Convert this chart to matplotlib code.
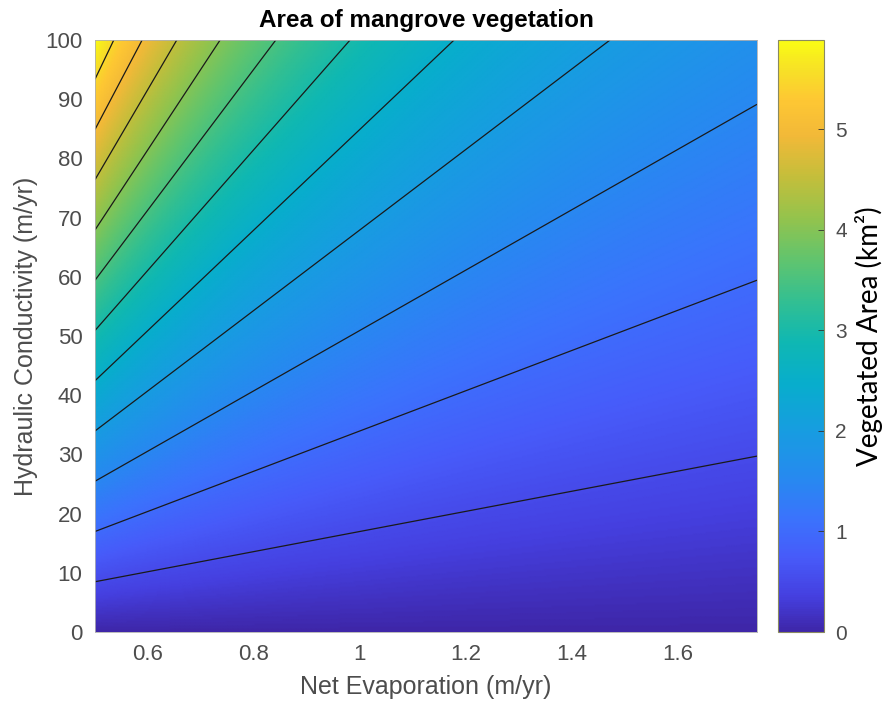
import numpy as np
import matplotlib
matplotlib.use("Agg")
import matplotlib.pyplot as plt
from matplotlib.colors import LinearSegmentedColormap

# axis ranges of the model sweep
evap_range = [0.5, 1.75]          # net evaporation (m/yr)
cond_range = [0.0, 100.0]         # hydraulic conductivity (m/yr)
# vegetated area grows with the conductivity / evaporation ratio
area_per_ratio = 0.02945          # km^2 per (m/yr / m/yr)
contour_levels = [0.5, 1.0, 1.5, 2.0, 2.5, 3.0, 3.5, 4.0, 4.5, 5.0, 5.5]
x_ticks = [0.6, 0.8, 1.0, 1.2, 1.4, 1.6]
x_tick_labels = ["0.6", "0.8", "1", "1.2", "1.4", "1.6"]
y_ticks = [0, 10, 20, 30, 40, 50, 60, 70, 80, 90, 100]
cbar_ticks = [0, 1, 2, 3, 4, 5]

# parula-like colour ramp
parula_pts = [
    (0.000, (0.2422, 0.1504, 0.6603)),
    (0.060, (0.2700, 0.2500, 0.8800)),
    (0.125, (0.2780, 0.3556, 0.9777)),
    (0.190, (0.2300, 0.4500, 0.9900)),
    (0.260, (0.1500, 0.5400, 0.9400)),
    (0.340, (0.0900, 0.6150, 0.8800)),
    (0.420, (0.0300, 0.6800, 0.8000)),
    (0.490, (0.0600, 0.7200, 0.7000)),
    (0.560, (0.2000, 0.7500, 0.5700)),
    (0.630, (0.3800, 0.7700, 0.4300)),
    (0.700, (0.5800, 0.7650, 0.3000)),
    (0.770, (0.7700, 0.7450, 0.2300)),
    (0.840, (0.9500, 0.7250, 0.2200)),
    (0.900, (0.9950, 0.7800, 0.2000)),
    (0.950, (0.9700, 0.8800, 0.1500)),
    (1.000, (0.9769, 0.9839, 0.0805)),
]
parula = LinearSegmentedColormap.from_list("parula_like", parula_pts)

E = np.linspace(evap_range[0], evap_range[1], 400)
K = np.linspace(cond_range[0], cond_range[1], 400)
EE, KK = np.meshgrid(E, K)
area = area_per_ratio * KK / EE
vmax = area.max()

plt.rcParams["font.family"] = ["Liberation Sans", "DejaVu Sans"]
grey = "#4d4d4d"

fig = plt.figure(figsize=(8.9, 7.02), dpi=100)
ax = fig.add_axes([95 / 890, 70 / 702, 662 / 890, 592 / 702])
cax = fig.add_axes([778 / 890, 70 / 702, 46 / 890, 592 / 702])

im = ax.pcolormesh(EE, KK, area, cmap=parula, vmin=0, vmax=vmax,
                   shading="gouraud", rasterized=True)
ax.contour(EE, KK, area, levels=contour_levels, colors="#1a1a1a",
           linewidths=0.9)

ax.set_xlim(evap_range)
ax.set_ylim(cond_range)
ax.set_xticks(x_ticks)
ax.set_xticklabels(x_tick_labels)
ax.set_yticks(y_ticks)
ax.tick_params(length=0, labelsize=16, labelcolor=grey, pad=9)
for s in ax.spines.values():
    s.set_color("#b0b0b0")
    s.set_linewidth(0.6)

ax.set_xlabel("Net Evaporation (m/yr)", fontsize=18, color=grey,
              labelpad=7)
ax.set_ylabel("Hydraulic Conductivity (m/yr)", fontsize=18, color=grey,
              labelpad=5)
ax.set_title("Area of mangrove vegetation", fontsize=17.5, fontweight="bold",
             pad=9)

cb = fig.colorbar(im, cax=cax)
cb.set_ticks(cbar_ticks)
cax.tick_params(direction="in", length=4, width=0.6, color="#333333",
                labelsize=15, labelcolor=grey, pad=8)
cb.outline.set_edgecolor("#8a8a60")
cb.outline.set_linewidth(0.8)
cb.set_label("Vegetated Area (km²)", fontsize=20, family="Lato",
             labelpad=6)

fig.savefig("out.png", dpi=100)
